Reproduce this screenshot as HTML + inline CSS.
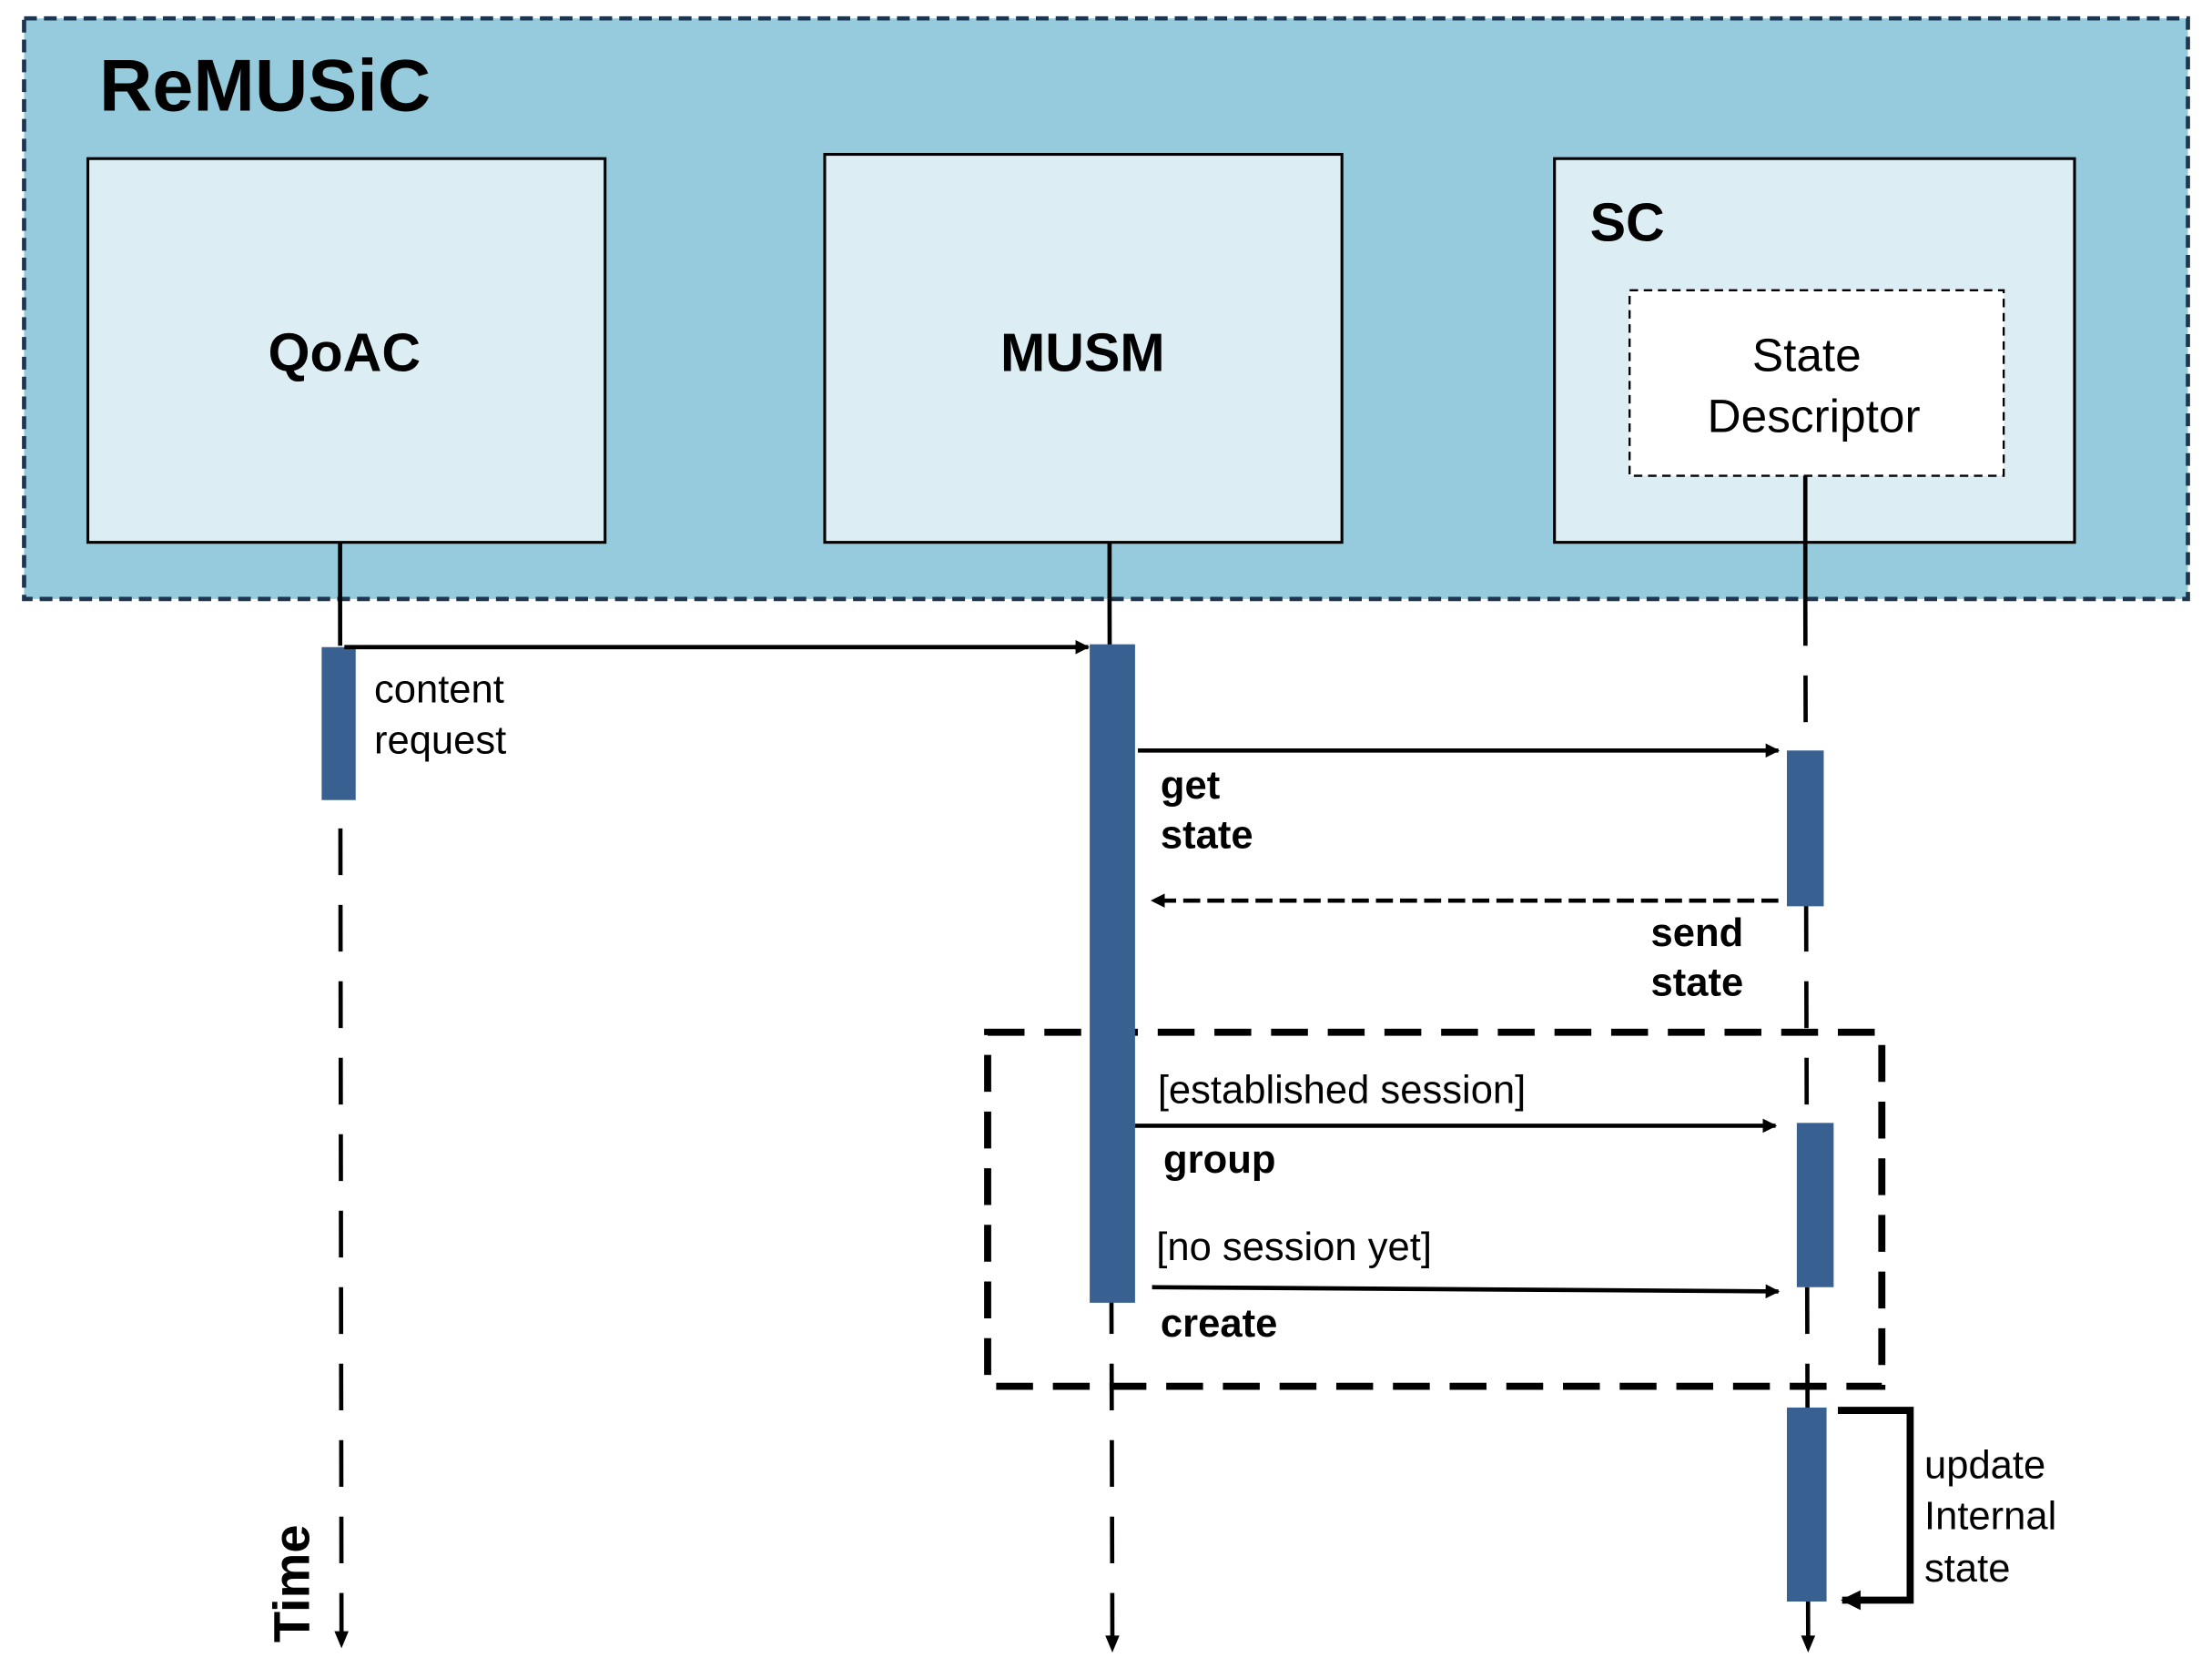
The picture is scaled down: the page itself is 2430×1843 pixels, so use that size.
<!DOCTYPE html>
<html><head><meta charset="utf-8"><style>
html,body{margin:0;padding:0;background:#fff;}
svg{display:block;}
text{font-family:"Liberation Sans",Arial,sans-serif;}
</style></head><body>
<svg width="2430" height="1843" viewBox="0 0 1561 1185" preserveAspectRatio="none" xmlns="http://www.w3.org/2000/svg">
<defs>
<marker id="ah" markerWidth="10" markerHeight="10" refX="9" refY="5" orient="auto" markerUnits="userSpaceOnUse"><path d="M0,0 L10,5 L0,10 z" fill="#000"/></marker>
<marker id="ah2" markerWidth="14" markerHeight="14" refX="13" refY="7" orient="auto" markerUnits="userSpaceOnUse"><path d="M0,0 L14,7 L0,14 z" fill="#000"/></marker>
</defs>
<rect x="17" y="13" width="1527" height="410" fill="#95cbdc" stroke="#1d3550" stroke-width="3" stroke-dasharray="9,5"/>
<text x="70" y="78" font-size="52" font-weight="bold" fill="#000">ReMUSiC</text>
<rect x="62" y="112" width="365" height="271" fill="#dceef3" stroke="#000" stroke-width="2"/>
<rect x="582" y="109" width="365" height="274" fill="#dceef3" stroke="#000" stroke-width="2"/>
<rect x="1097" y="112" width="367" height="271" fill="#dceef3" stroke="#000" stroke-width="2"/>
<text x="243" y="262" font-size="38" font-weight="bold" text-anchor="middle">QoAC</text>
<text x="764" y="262" font-size="38" font-weight="bold" text-anchor="middle">MUSM</text>
<text x="1122" y="170" font-size="38" font-weight="bold">SC</text>
<rect x="1150" y="205" width="264" height="131" fill="#fff" stroke="#000" stroke-width="1.5" stroke-dasharray="6,4"/>
<text x="1275" y="262" font-size="33" text-anchor="middle">State</text>
<text x="1280" y="305" font-size="33" text-anchor="middle">Descriptor</text>
<!-- lifelines -->
<g stroke="#000" stroke-width="3">
<line x1="240" y1="383" x2="240" y2="423"/>
<line x1="783" y1="383" x2="783" y2="423"/>
<line x1="1274" y1="336" x2="1274" y2="423"/>
<line x1="240" y1="423" x2="241" y2="1155" stroke-dasharray="33,21"/>
<line x1="783" y1="423" x2="785" y2="1158" stroke-dasharray="33,21"/>
<line x1="1274" y1="423" x2="1276" y2="1158" stroke-dasharray="33,21"/>
</g>
<path d="M236,1152 L246,1152 L241,1164z"/>
<path d="M780,1155 L790,1155 L785,1167z"/>
<path d="M1271,1155 L1281,1155 L1276,1167z"/>
<!-- frame -->
<rect x="697" y="729" width="631" height="250" fill="none" stroke="#000" stroke-width="5" stroke-dasharray="26,14"/>
<!-- activations -->
<g fill="#386090">
<rect x="227" y="457" width="24" height="108"/>
<rect x="769" y="455" width="32" height="465"/>
<rect x="1261" y="530" width="26" height="110"/>
<rect x="1268" y="793" width="26" height="116"/>
<rect x="1261" y="994" width="28" height="137"/>
</g>
<!-- messages -->
<g stroke="#000" stroke-width="3" fill="none">
<line x1="243" y1="457" x2="768" y2="457" marker-end="url(#ah)"/>
<line x1="803" y1="530" x2="1255" y2="530" marker-end="url(#ah)"/>
<line x1="1255" y1="636" x2="813" y2="636" stroke-dasharray="12,5" marker-end="url(#ah)"/>
<line x1="801" y1="795" x2="1253" y2="795" marker-end="url(#ah)"/>
<line x1="813" y1="909" x2="1255" y2="912" marker-end="url(#ah)"/>
<path d="M1297,996 L1348,996 L1348,1130 L1300,1130" stroke-width="5" marker-end="url(#ah2)"/>
</g>
<g font-size="28">
<text x="264" y="496">content</text>
<text x="264" y="532">request</text>
<text x="819" y="564" font-weight="bold">get</text>
<text x="819" y="599" font-weight="bold">state</text>
<text x="1165" y="668" font-weight="bold">send</text>
<text x="1165" y="703" font-weight="bold">state</text>
<text x="817" y="779">[established session]</text>
<text x="821" y="828" font-weight="bold">group</text>
<text x="816" y="890">[no session yet]</text>
<text x="819" y="944" font-weight="bold">create</text>
<text x="1358" y="1044">update</text>
<text x="1358" y="1080">Internal</text>
<text x="1358" y="1117">state</text>
</g>
<text transform="translate(218,1160) rotate(-90)" font-size="36" font-weight="bold">Time</text>
</svg>
</body></html>
